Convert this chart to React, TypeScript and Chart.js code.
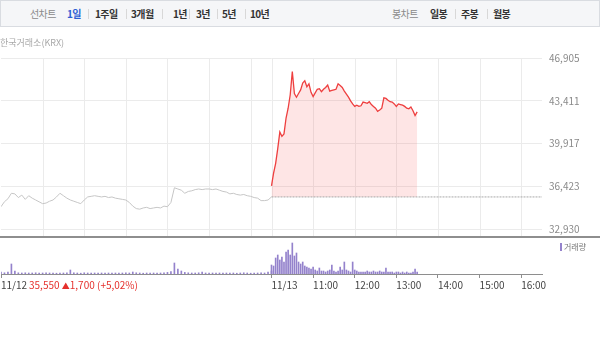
import React, { useEffect, useRef } from "react";
import { Chart, registerables } from "chart.js";

Chart.register(...registerables);

// ---------- data ----------
const prevClose = 35550;

// 11/12 intraday price, one value every 5 minutes from 09:00 to 15:30
const prevDayPrice = [
  34750, 35160, 35400, 35850, 35800, 35500, 35700, 35350, 35650, 35450,
  35300, 35150, 35000, 35050, 35200, 35300, 35550, 35850, 35650, 35450,
  35300, 35200, 35100, 35000, 35300, 35550, 35600, 35650, 35600, 35550,
  35600, 35500, 35550, 35450, 35400, 35350, 35300, 35100, 34800, 34600,
  34550, 34650, 34700, 34600, 34650, 34700, 34650, 34800, 34750, 35100,
  36300, 36200, 36100, 35850, 36000, 36050, 36150, 36200, 36150, 36200,
  36200, 36150, 36200, 36100, 36000, 35950, 35800, 35850, 35750, 35700,
  35750, 35650, 35600, 35500, 35450, 35250, 35250, 35300, 35550,
];

// 11/13 intraday price, one value every 3 minutes from 10:00
const todayPrice = [
  36450, 37500, 38300, 39500, 40850, 40500, 40700, 42000, 42800, 43900,
  45800, 44000, 43700, 44000, 44300, 44850, 45050, 44550, 44800, 44100,
  43750, 44050, 44350, 44400, 44150, 44350, 44500, 44700, 44200, 44250,
  44300, 44350, 44800, 44650, 44500, 44200, 43950, 43700, 43400, 43150,
  42950, 43050, 42950, 43000, 43300, 43250, 43200, 43330, 43100, 42950,
  42800, 42550, 42650, 42800, 43650, 43600, 43450, 43330, 43300, 43150,
  42950, 43150, 43100, 43050, 42950, 42800, 42750, 42900, 42600, 42200,
  42500,
];

// volume (thousand shares)
const prevDayVolume = [
  50, 30, 50, 250, 75, 30, 25, 30, 25, 25,
  30, 25, 25, 30, 25, 25, 20, 25, 25, 30,
  100, 30, 25, 20, 30, 25, 20, 25, 20, 25,
  20, 25, 20, 25, 20, 25, 30, 25, 50, 30,
  25, 20, 25, 20, 25, 20, 25, 30, 40, 60,
  275, 125, 75, 40, 30, 25, 25, 30, 50, 25,
  20, 25, 20, 25, 20, 25, 20, 25, 20, 25,
  30, 25, 20, 25, 25, 30, 25, 50, 75,
];
const todayVolume = [
  225, 200, 400, 475, 350, 425, 300, 550, 600, 475,
  775, 450, 525, 300, 250, 300, 200, 175, 150, 125,
  175, 100, 75, 150, 75, 75, 50, 75, 100, 225,
  75, 50, 75, 175, 100, 300, 100, 75, 50, 300,
  100, 75, 50, 50, 50, 50, 75, 50, 50, 75,
  50, 50, 75, 50, 50, 150, 50, 50, 50, 25,
  50, 50, 25, 50, 25, 50, 25, 25, 50, 125,
  50,
];

const yTicks = [32930, 36423, 39917, 43411, 46905];
const xTickMinutes = [0, 390, 450, 510, 570, 630, 690, 750];
const xTickLabels = ["11/12", "11/13", "11:00", "12:00", "13:00", "14:00", "15:00", "16:00"];
const gridMinutes = [60, 120, 180, 240, 300, 360, 390, 450, 510, 570, 630, 690, 750];

const PREV_STEP = 5;
const TODAY_START = 390;
const TODAY_STEP = 3;
const X_MAX = 780;

const tabsLeft = [
  { t: "선차트", x: 30, c: "#8a8a8a", b: 400 },
  { t: "1일", x: 67, c: "#2d5fd4", b: 700 },
  { t: "1주일", x: 95, c: "#333", b: 700 },
  { t: "3개월", x: 131, c: "#333", b: 700 },
  { t: "1년", x: 173, c: "#333", b: 700 },
  { t: "3년", x: 196, c: "#333", b: 700 },
  { t: "5년", x: 222, c: "#333", b: 700 },
  { t: "10년", x: 250, c: "#333", b: 700 },
  { t: "봉차트", x: 392, c: "#8a8a8a", b: 400 },
  { t: "일봉", x: 430, c: "#333", b: 700 },
  { t: "주봉", x: 461, c: "#333", b: 700 },
  { t: "월봉", x: 493, c: "#333", b: 700 },
];
const tabSeps = [88, 126, 162, 189, 217, 245, 455, 487];

// layout geometry (pixels)
const PLOT_TOP = 58;
const PLOT_BOTTOM = 274;
const VOL_TOP_PX = 237;
const LOW_TICK_PX = 229;
const VOL_TOP = 925;

const pxPerUnit = (LOW_TICK_PX - PLOT_TOP) / (yTicks[4] - yTicks[0]);
const Y_MIN = yTicks[0] - (PLOT_BOTTOM - LOW_TICK_PX) / pxPerUnit;
const Y_MAX = yTicks[4];
const VOL_AXIS_MAX = (VOL_TOP * (PLOT_BOTTOM - PLOT_TOP)) / (PLOT_BOTTOM - VOL_TOP_PX);

const FONT = "'Noto Sans CJK KR', 'Noto Sans', sans-serif";

const decorPlugin = {
  id: "decor",
  beforeDatasetsDraw(chart: any) {
    const { ctx, chartArea, scales } = chart;
    const sepY = scales.yv.getPixelForValue(VOL_TOP);
    ctx.save();
    ctx.strokeStyle = "#ebebeb";
    ctx.lineWidth = 1;
    ctx.beginPath();
    for (const m of gridMinutes) {
      const x = Math.round(scales.x.getPixelForValue(m)) + 0.5;
      ctx.moveTo(x, chartArea.top);
      ctx.lineTo(x, sepY);
    }
    ctx.stroke();
    ctx.restore();
  },
  afterDatasetsDraw(chart: any) {
    const { ctx, scales } = chart;
    const sepY = Math.round(scales.yv.getPixelForValue(VOL_TOP));
    ctx.save();
    ctx.strokeStyle = "#8e8e8e";
    ctx.lineWidth = 2;
    ctx.beginPath();
    ctx.moveTo(0, sepY);
    ctx.lineTo(chart.width, sepY);
    ctx.stroke();
    ctx.restore();
  },
};

export default function App() {
  const ref = useRef<HTMLCanvasElement | null>(null);

  useEffect(() => {
    document.body.style.margin = "0";
    const canvas = ref.current;
    if (!canvas) return;

    const prevPts = prevDayPrice.map((v, i) => ({ x: i * PREV_STEP, y: v }));
    const todayPts = todayPrice.map((v, i) => ({ x: TODAY_START + i * TODAY_STEP, y: v }));
    const volPts = [
      ...prevDayVolume.map((v, i) => ({ x: i * PREV_STEP, y: v })),
      ...todayVolume.map((v, i) => ({ x: TODAY_START + i * TODAY_STEP, y: v })),
    ];

    const chart = new Chart(canvas, {
      type: "line",
      data: {
        datasets: [
          {
            type: "line",
            data: prevPts,
            yAxisID: "y",
            borderColor: "#c6c6c6",
            borderWidth: 1,
            pointRadius: 0,
            fill: false,
            tension: 0,
          },
          {
            type: "line",
            data: [
              { x: TODAY_START, y: prevClose },
              { x: X_MAX, y: prevClose },
            ],
            yAxisID: "y",
            borderColor: "#a8a8a8",
            borderWidth: 1,
            borderDash: [2, 1],
            pointRadius: 0,
            fill: false,
          },
          {
            type: "line",
            data: todayPts,
            yAxisID: "y",
            borderColor: "#ee3f3f",
            borderWidth: 1.3,
            pointRadius: 0,
            tension: 0,
            fill: { value: prevClose },
            backgroundColor: "rgba(248, 110, 110, 0.18)",
          },
          {
            type: "bar",
            data: volPts,
            yAxisID: "yv",
            backgroundColor: "#9482cc",
            barThickness: 1,
          } as any,
        ],
      },
      options: {
        responsive: false,
        devicePixelRatio: 1,
        animation: false,
        layout: { padding: { top: PLOT_TOP, bottom: 44, left: 0, right: 0 } },
        plugins: { legend: { display: false }, tooltip: { enabled: false } },
        scales: {
          x: {
            type: "linear",
            min: 0,
            max: X_MAX,
            offset: false,
            afterBuildTicks: (s: any) => {
              s.ticks = xTickMinutes.map((v) => ({ value: v }));
            },
            afterFit: (s: any) => {
              s.height = 22;
            },
            ticks: {
              autoSkip: false,
              maxRotation: 0,
              align: "start",
              padding: 1,
              color: "#444",
              font: { family: FONT, size: 10 },
              callback: (v: any) => {
                const i = xTickMinutes.indexOf(Number(v));
                return i >= 0 ? xTickLabels[i] : "";
              },
            },
            grid: {
              offset: false,
              drawOnChartArea: false,
              drawTicks: true,
              tickLength: 4,
              color: "#8e8e8e",
            },
            border: { color: "#8e8e8e" },
          },
          y: {
            position: "right",
            min: Y_MIN,
            max: Y_MAX,
            afterBuildTicks: (s: any) => {
              s.ticks = yTicks.map((v) => ({ value: v }));
            },
            afterFit: (s: any) => {
              s.width = 58;
            },
            ticks: {
              padding: 7,
              color: "#8a8a8a",
              font: { family: FONT, size: 10 },
              callback: (v: any) => Number(v).toLocaleString("en-US"),
            },
            grid: { color: "#ebebeb", drawTicks: false },
            border: { display: false },
          },
          yv: {
            display: false,
            min: 0,
            max: VOL_AXIS_MAX,
          },
        },
      },
      plugins: [decorPlugin],
    } as any);

    return () => chart.destroy();
  }, []);

  return (
    <div
      style={{
        position: "relative",
        width: 600,
        height: 340,
        background: "#fff",
        fontFamily: FONT,
        overflow: "hidden",
      }}
    >
      <canvas ref={ref} width={600} height={340} style={{ position: "absolute", left: 0, top: 0 }} />
      <div
        style={{
          position: "absolute",
          left: 0,
          top: 0,
          width: 600,
          height: 27,
          boxSizing: "border-box",
          background: "#f5f6f8",
          border: "1px solid #d9dce1",
        }}
      />
      {tabsLeft.map((t) => (
        <div
          key={t.t + t.x}
          style={{
            position: "absolute",
            left: t.x,
            top: 0,
            height: 27,
            lineHeight: "27px",
            fontSize: 10,
            fontWeight: t.b,
            color: t.c,
            letterSpacing: -0.6,
            whiteSpace: "nowrap",
          }}
        >
          {t.t}
        </div>
      ))}
      {tabSeps.map((x) => (
        <div
          key={x}
          style={{ position: "absolute", left: x, top: 9, width: 1, height: 10, background: "#d8d8d8" }}
        />
      ))}
      <div
        style={{
          position: "absolute",
          left: 0,
          top: 36,
          fontSize: 9,
          color: "#a8a8a8",
          whiteSpace: "nowrap",
          lineHeight: "14px",
        }}
      >
        한국거래소(KRX)
      </div>
      <div
        style={{
          position: "absolute",
          left: 560,
          top: 241,
          fontSize: 8,
          color: "#777",
          whiteSpace: "nowrap",
          lineHeight: "12px",
          display: "flex",
          alignItems: "center",
        }}
      >
        <span style={{ display: "inline-block", width: 2, height: 8, background: "#9482cc", marginRight: 2 }} />
        거래량
      </div>
      <div
        style={{
          position: "absolute",
          left: 29,
          top: 278,
          fontSize: 10,
          color: "#e5302c",
          whiteSpace: "nowrap",
          lineHeight: "14px",
        }}
      >
        35,550 <span style={{ fontSize: 8 }}>▲</span>1,700 (+5,02%)
      </div>
    </div>
  );
}
